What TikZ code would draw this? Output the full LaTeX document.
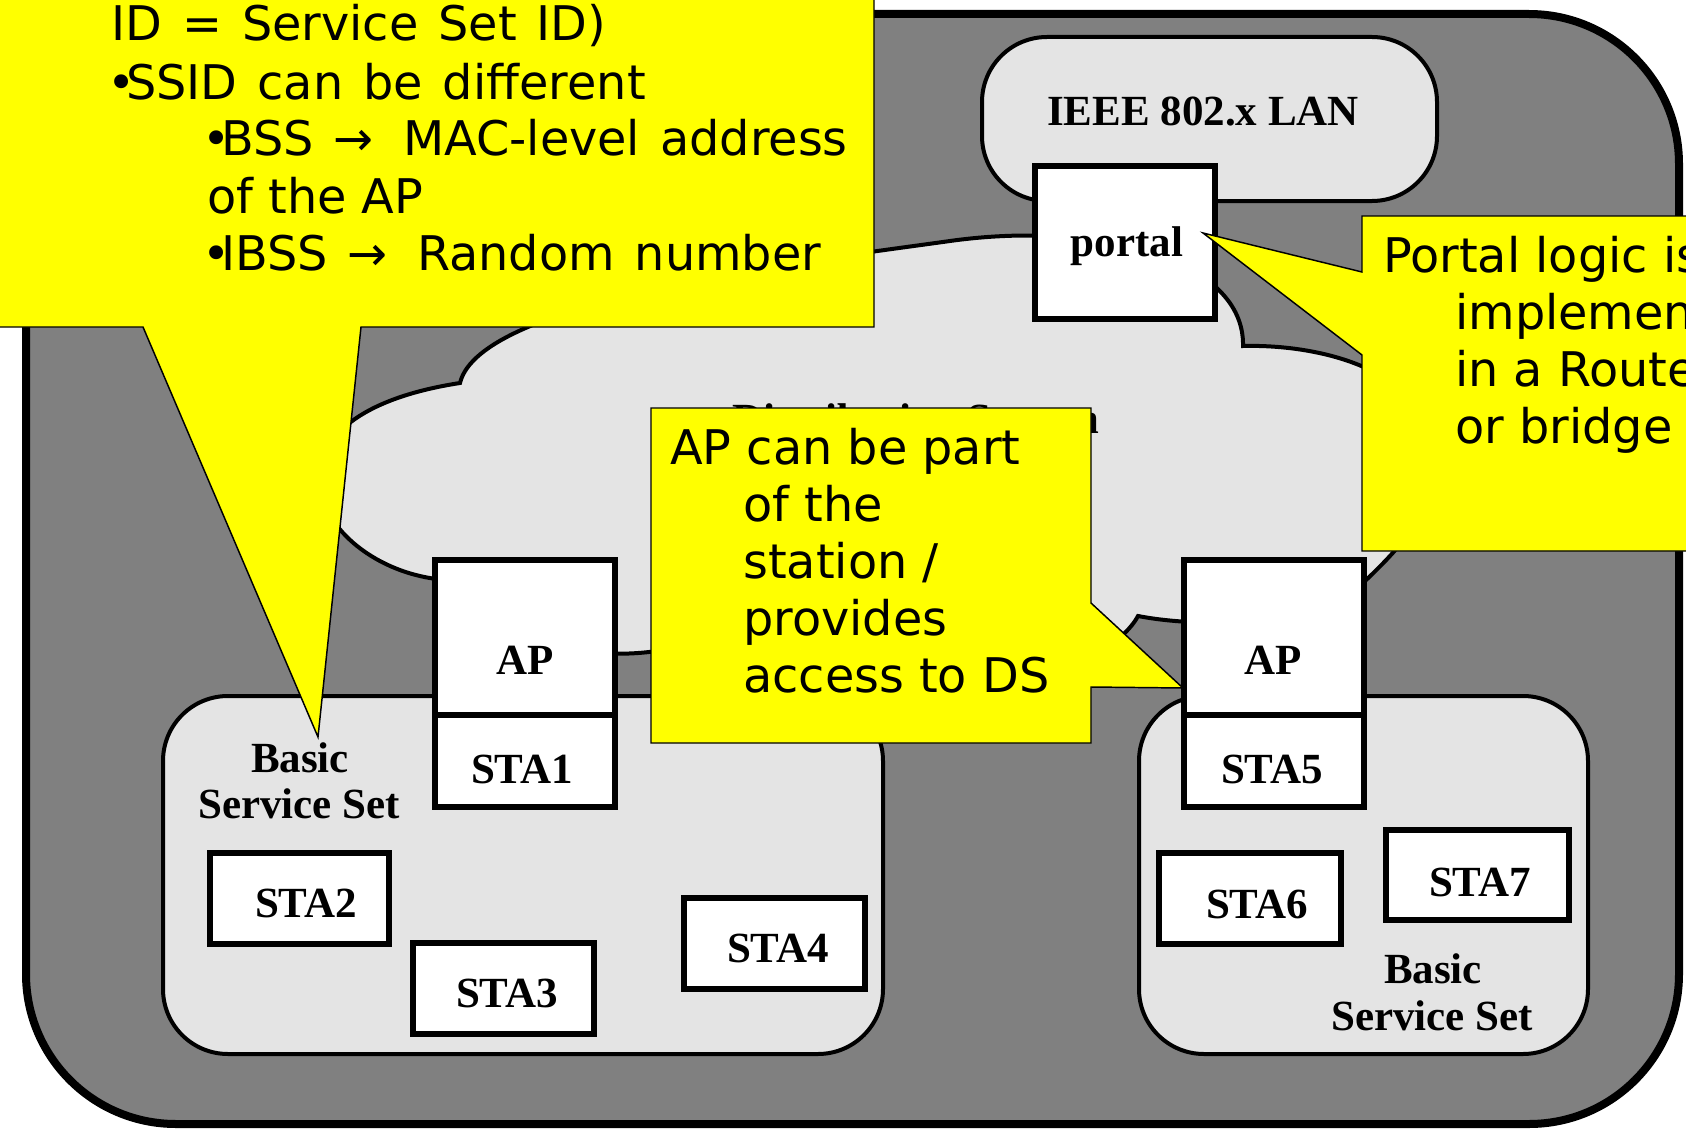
\documentclass[tikz,border=0pt]{standalone}
\usepackage{fontspec}
\setmainfont{Liberation Serif}
\newfontfamily\calloutfont{DejaVu Sans}
\definecolor{framegray}{HTML}{808080}
\definecolor{regiongray}{HTML}{E4E4E4}
\definecolor{noteyellow}{HTML}{FFFF00}
% tight bullet, set close to the word that follows it
\newcommand\notebullet{\kern-0.1em•\kern-0.2em}
% arrow with a little more room after it
\newcommand\notearrow{→\kern0.2em}
\tikzset{
  frame/.style={draw=black, fill=framegray, line width=6pt, rounded corners=112.5pt, inner sep=0pt},
  region/.style={draw=black, fill=regiongray, line width=3pt, inner sep=0pt},
  stabox/.style={draw=black, fill=white, line width=4.5pt, inner sep=0pt},
  lbl/.style={font=\bfseries\fontsize{32.25}{38}\selectfont, anchor=base, inner sep=0pt},
  note/.style={font=\calloutfont\fontsize{35.8}{43}\selectfont, anchor=base west, inner sep=0pt},
  widenote/.style={note, execute at begin node={\spaceskip=15pt plus 3pt minus 3pt\relax}},
  callout/.style={draw=black, fill=noteyellow, line width=1.1pt, line join=miter},
}
\begin{document}
\begin{tikzpicture}[x=0.75pt, y=-0.75pt]
\useasboundingbox (0,0) rectangle (1686,1131);
\clip (0,0) rectangle (1686,1131);
\fill[white] (0,0) rectangle (1686,1131);

% extended service set frame
\node[frame, minimum width=1653*0.75pt, minimum height=1110*0.75pt] (ess) at (852.5,569) {};

% wired LAN
\node[region, rounded corners=48.75pt, minimum width=455*0.75pt, minimum height=164*0.75pt] (lan) at (1209.5,119) {};
\node[lbl] (lantext) at (1203,126) {IEEE 802.x LAN};

% distribution system cloud
\draw[region, line join=miter] (460,383) .. controls (480,300) and (800,262) .. (950,241)
  .. controls (1100,220) and (1245,260) .. (1243,346)
  .. controls (1320,344) and (1430,370) .. (1432,455)
  .. controls (1434,510) and (1410,540) .. (1350,595)
  .. controls (1300,625) and (1200,628) .. (1138,616)
  .. controls (1115,660) and (1000,705) .. (880,700)
  .. controls (780,696) and (715,680) .. (700,640)
  .. controls (680,650) and (540,685) .. (470,580)
  .. controls (330,590) and (220,420) .. (460,383) -- cycle;
\node[lbl] (dstext) at (916,433) {Distribution System};

% portal
\node[stabox, minimum width=180*0.75pt, minimum height=153*0.75pt] (portal) at (1125,242.5) {};
\node[lbl] (portaltext) at (1127,256) {portal};

% basic service sets
\node[region, rounded corners=48.75pt, minimum width=720*0.75pt, minimum height=358*0.75pt] (bss1) at (523,875) {};
\node[region, rounded corners=48.75pt, minimum width=449*0.75pt, minimum height=358*0.75pt] (bss2) at (1363.5,875) {};
\node[lbl] (bss1a) at (300,772) {Basic};
\node[lbl] (bss1b) at (299,818) {Service Set};
\node[lbl] (bss2a) at (1433,983) {Basic};
\node[lbl] (bss2b) at (1432,1030) {Service Set};

% access points and stations
\node[stabox, minimum width=180*0.75pt, minimum height=155*0.75pt] (ap1) at (525,637.5) {};
\node[stabox, minimum width=180*0.75pt, minimum height=92*0.75pt] (sta1) at (525,761) {};
\node[stabox, minimum width=180*0.75pt, minimum height=155*0.75pt] (ap2) at (1274,637.5) {};
\node[stabox, minimum width=180*0.75pt, minimum height=92*0.75pt] (sta5) at (1274,761) {};
\node[stabox, minimum width=179*0.75pt, minimum height=91*0.75pt] (sta2) at (299.5,898.5) {};
\node[stabox, minimum width=181*0.75pt, minimum height=91*0.75pt] (sta3) at (503.5,988.5) {};
\node[stabox, minimum width=181*0.75pt, minimum height=91*0.75pt] (sta4) at (774.5,943.5) {};
\node[stabox, minimum width=182*0.75pt, minimum height=91*0.75pt] (sta6) at (1250,898.5) {};
\node[stabox, minimum width=183*0.75pt, minimum height=90*0.75pt] (sta7) at (1477.5,875) {};

\node[lbl] (ap1text) at (525,674) {AP};
\node[lbl] (sta1text) at (522,783) {STA1};
\node[lbl] (ap2text) at (1273,674) {AP};
\node[lbl] (sta5text) at (1272,783) {STA5};
\node[lbl] (sta2text) at (306,917) {STA2};
\node[lbl] (sta3text) at (507,1007) {STA3};
\node[lbl] (sta4text) at (778,962) {STA4};
\node[lbl] (sta6text) at (1257,918) {STA6};
\node[lbl] (sta7text) at (1480,896) {STA7};

% callout on the service set identifier
\draw[callout] (-20,-20) -- (874,-20) -- (874,327) -- (361,327) -- (318,737) -- (143,327) -- (-20,327) -- cycle;
\node[widenote] (n1a) at (111,41) {ID = Service Set ID)};
\node[widenote] (n1b) at (112,99) {\notebullet SSID can be different};
\node[widenote] (n1c) at (207,156) {\notebullet BSS \notearrow{} MAC-level address};
\node[note] (n1d) at (207,213) {of the AP};
\node[widenote] (n1e) at (207,270) {\notebullet IBSS \notearrow{} Random number};

% callout on the access point
\draw[callout] (651,408) -- (1091,408) -- (1091,603) -- (1183,688) -- (1091,687) -- (1091,743) -- (651,743) -- cycle;
\node[note] (n2a) at (670,464) {AP can be part};
\node[note] (n2b) at (743,521) {of the};
\node[note] (n2c) at (743,578) {station /};
\node[note] (n2d) at (743,635) {provides};
\node[note] (n2e) at (743,692) {access to DS};

% callout on the portal
\draw[callout] (1362,216) -- (1720,216) -- (1720,551) -- (1362,551) -- (1362,355) -- (1203,233) -- (1362,272) -- cycle;
\node[note] (n3a) at (1383,272) {Portal logic is};
\node[note] (n3b) at (1455,329) {implemented};
\node[note] (n3c) at (1455,386) {in a Router};
\node[note] (n3d) at (1455,443) {or bridge};
\end{tikzpicture}
\end{document}
